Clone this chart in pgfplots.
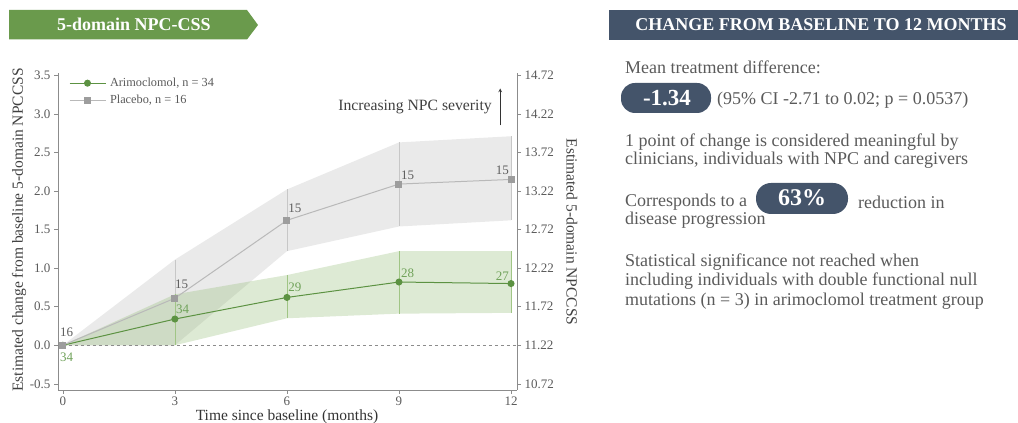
\documentclass[border=0pt]{standalone}
\usepackage{fontspec}
\setmainfont{Liberation Serif}
\usepackage{pgfplots}
\pgfplotsset{compat=1.18}

\definecolor{bannergreen}{RGB}{106,154,76}
\definecolor{slate}{RGB}{68,84,106}
\definecolor{txtgray}{RGB}{90,90,90}
\definecolor{axgray}{RGB}{140,140,140}
\definecolor{armgreen}{RGB}{92,146,66}
\definecolor{armlabel}{RGB}{112,162,90}
\definecolor{bandgreen}{RGB}{150,190,120}
\definecolor{plcgray}{RGB}{185,185,185}
\definecolor{bandgray}{RGB}{234,234,234}
\definecolor{lblgray}{RGB}{95,95,95}

\newcommand\fs[1]{\fontsize{#1}{#1}\selectfont}

\begin{document}
\begin{tikzpicture}
\path[use as bounding box] (0pt,0pt) rectangle (1018pt,423pt);

% banner left
\fill[bannergreen] (9pt,413pt) -- (247pt,413pt) -- (258pt,398pt) -- (247pt,383.5pt) -- (9pt,383.5pt) -- cycle;
\node[white,font=\fs{18}\bfseries] at (134pt,398.5pt) {5-domain NPC-CSS};

\begin{axis}[
  at={(58pt,33pt)}, anchor=south west,
  scale only axis, width=459pt, height=317pt,
  xmin=-0.13, xmax=12.16, ymin=-0.58, ymax=3.53,
  axis x line*=bottom, axis y line*=left,
  axis line style={axgray,line width=0.8pt},
  xtick={0,3,6,9,12},
  ytick={-0.5,0,0.5,1,1.5,2,2.5,3,3.5},
  tick align=outside, major tick length=4pt,
  tick style={axgray,line width=0.6pt},
  /pgf/number format/assume math mode=true,
  yticklabel style={/pgf/number format/.cd,fixed,fixed zerofill,precision=1},
  ticklabel style={font=\fs{13},text=txtgray},
  xticklabel style={yshift=1pt},
  legend style={at={(0.017,0.997)}, anchor=north west, draw=none, fill=none,
    font=\fs{12.3}, text=txtgray, row sep=3pt,
    nodes={inner xsep=4pt}},
  legend cell align=left,
  legend image code/.code={\draw[mark repeat=2,mark phase=2,#1] plot coordinates {(0pt,0pt) (18pt,0pt) (36pt,0pt)};},
  clip=false,
]
% confidence bands
\addplot[fill=bandgray, draw=none, forget plot] coordinates
  {(0,0) (3,1.11) (6,2.02) (9,2.63) (12,2.71) (12,1.62) (9,1.54) (6,1.22) (3,0.0) (0,0)} -- cycle;
\addplot[fill=bandgreen, fill opacity=0.32, draw=none, forget plot] coordinates
  {(0,0) (3,0.66) (6,0.91) (9,1.22) (12,1.22) (12,0.42) (9,0.41) (6,0.35) (3,0.0) (0,0)} -- cycle;

% error bars (vertical CI lines)
\addplot[draw=none, forget plot, error bars/.cd, y dir=both, y explicit,
  error mark=none, error bar style={color=plcgray!80, line width=0.6pt}]
  coordinates {(3,0.61) += (0,0.50) -= (0,0.61)
               (6,1.62) += (0,0.40) -= (0,0.40)
               (9,2.09) += (0,0.54) -= (0,0.55)
               (12,2.15) += (0,0.56) -= (0,0.53)};
\addplot[draw=none, forget plot, error bars/.cd, y dir=both, y explicit,
  error mark=none, error bar style={color=bandgreen!90, line width=0.6pt}]
  coordinates {(3,0.34) += (0,0.32) -= (0,0.34)
               (6,0.62) += (0,0.29) -= (0,0.27)
               (9,0.82) += (0,0.40) -= (0,0.41)
               (12,0.80) += (0,0.42) -= (0,0.38)};

% zero reference
\addplot[axgray, dashed, line width=0.6pt, forget plot] coordinates {(0,0) (12.16,0)};

% series
\addplot[armgreen, line width=1pt, mark=*, mark size=3pt, mark options={fill=armgreen,draw=armgreen}]
  coordinates {(0,0) (3,0.34) (6,0.62) (9,0.82) (12,0.80)};
\addlegendentry{Arimoclomol, n = 34}
\addplot[plcgray, line width=1pt, mark=square*, mark size=3pt, mark options={fill=plcgray!85!black,draw=plcgray!85!black}]
  coordinates {(0,0) (3,0.61) (6,1.62) (9,2.09) (12,2.15)};
\addlegendentry{Placebo, n = 16}

% sample sizes
\begin{scope}[font=\fs{13}]
\node[anchor=west,text=lblgray,inner sep=0pt] at (axis cs:-0.08,0.17) {16};
\node[anchor=west,text=armlabel,inner sep=0pt] at (axis cs:-0.08,-0.16) {34};
\node[anchor=west,text=lblgray,inner sep=0pt] at (axis cs:3.0,0.79) {15};
\node[anchor=west,text=armlabel,inner sep=0pt] at (axis cs:3.03,0.47) {34};
\node[anchor=west,text=lblgray,inner sep=0pt] at (axis cs:6.03,1.78) {15};
\node[anchor=west,text=armlabel,inner sep=0pt] at (axis cs:6.03,0.75) {29};
\node[anchor=west,text=lblgray,inner sep=0pt] at (axis cs:9.05,2.2) {15};
\node[anchor=west,text=armlabel,inner sep=0pt] at (axis cs:9.05,0.93) {28};
\node[anchor=east,text=lblgray,inner sep=0pt] at (axis cs:11.95,2.27) {15};
\node[anchor=east,text=armlabel,inner sep=0pt] at (axis cs:11.95,0.9) {27};
\end{scope}

% severity arrow
\draw[-stealth, black!80, line width=0.7pt] (axis cs:11.71,2.85) -- (axis cs:11.71,3.33);
\node[anchor=east, font=\fs{15.7}, text=black!75, inner sep=0pt] at (axis cs:11.49,3.09) {Increasing NPC severity};
\end{axis}

\begin{axis}[
  at={(58pt,33pt)}, anchor=south west,
  scale only axis, width=459pt, height=317pt,
  xmin=-0.13, xmax=12.16, ymin=10.64, ymax=14.75,
  axis x line=none, axis y line*=right,
  axis line style={axgray,line width=0.8pt},
  ytick={10.72,11.22,11.72,12.22,12.72,13.22,13.72,14.22,14.72},
  tick align=outside, major tick length=4pt,
  tick style={axgray,line width=0.6pt},
  /pgf/number format/assume math mode=true,
  yticklabel style={/pgf/number format/.cd,fixed,fixed zerofill,precision=2},
  ticklabel style={font=\fs{13},text=txtgray},
]
\addplot[draw=none] coordinates {(0,11.22)};
\end{axis}

% axis titles
\node[rotate=90, font=\fs{15.5}, text=black!75] at (19pt,193pt) {Estimated change from baseline 5-domain NPCCSS};
\node[rotate=-90, font=\fs{15.5}, text=black!75] at (572pt,191pt) {Estimated 5-domain NPCCSS};
\node[font=\fs{15.5}, text=black!80] at (287pt,6pt) {Time since baseline (months)};

% right panel
\fill[slate] (609pt,413pt) rectangle (1018pt,383pt);
\node[white, font=\fs{18}\bfseries] at (821pt,398pt) {CHANGE FROM BASELINE TO 12 MONTHS};

\begin{scope}[every node/.style={anchor=west, inner sep=0pt, text=txtgray, font=\fs{18}}]
\node at (625pt,356pt) {Mean treatment difference:};
\fill[slate, rounded corners=14pt] (621pt,340pt) rectangle (711pt,310pt);
\node[anchor=center, white, font=\fs{23}\bfseries] at (667pt,325pt) {-1.34};
\node at (717pt,323pt) {(95\% CI -2.71 to 0.02; p = 0.0537)};
\node at (625pt,281pt) {1 point of change is considered meaningful by};
\node at (625pt,263pt) {clinicians, individuals with NPC and caregivers};
\node at (625pt,221pt) {Corresponds to a};
\fill[slate, rounded corners=15pt] (756pt,240pt) rectangle (848pt,209pt);
\node[anchor=center, white, font=\fs{24}\bfseries] at (802pt,225pt) {63\%};
\node at (858pt,221pt) {reduction in};
\node at (625pt,203pt) {disease progression};
\node at (625pt,161pt) {Statistical significance not reached when};
\node at (625pt,142pt) {including individuals with double functional null};
\node at (625pt,122pt) {mutations (n = 3) in arimoclomol treatment group};
\end{scope}
\end{tikzpicture}
\end{document}
